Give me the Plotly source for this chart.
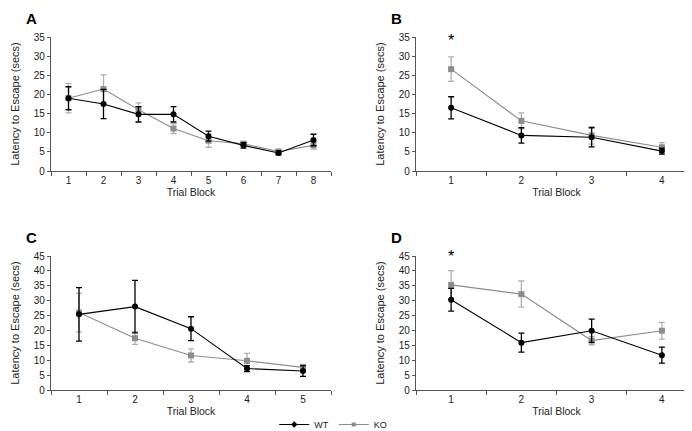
import plotly.graph_objects as go

# panel A - 8 trial blocks
a_blocks = ["1", "2", "3", "4", "5", "6", "7", "8"]
a_wt = [19.0, 17.5, 14.8, 14.8, 9.1, 6.7, 4.7, 8.1]
a_wt_err = [3.0, 3.8, 2.0, 2.0, 1.3, 0.7, 0.5, 1.5]
a_ko = [19.0, 21.4, 16.0, 11.1, 7.9, 7.1, 5.1, 6.7]
a_ko_err = [3.8, 3.7, 1.8, 1.3, 1.7, 0.6, 0.5, 1.0]

# panel B - 4 trial blocks
b_blocks = ["1", "2", "3", "4"]
b_wt = [16.5, 9.3, 8.8, 5.2]
b_wt_err = [2.9, 2.0, 2.5, 0.8]
b_ko = [26.6, 13.1, 9.3, 6.2]
b_ko_err = [3.2, 2.1, 2.3, 1.2]

# panel C - 5 trial blocks
c_blocks = ["1", "2", "3", "4", "5"]
c_wt = [25.4, 28.0, 20.6, 7.2, 6.4]
c_wt_err = [9.0, 8.8, 4.0, 1.0, 1.8]
c_ko = [26.0, 17.4, 11.6, 9.8, 7.6]
c_ko_err = [6.5, 2.1, 2.2, 2.5, 1.0]

# panel D - 4 trial blocks
d_blocks = ["1", "2", "3", "4"]
d_wt = [30.3, 15.9, 19.9, 11.7]
d_wt_err = [3.8, 3.2, 3.9, 2.7]
d_ko = [35.3, 32.2, 16.6, 19.9]
d_ko_err = [4.8, 4.4, 1.4, 2.8]

panels = [
    ("A", a_blocks, a_wt, a_wt_err, a_ko, a_ko_err, 35),
    ("B", b_blocks, b_wt, b_wt_err, b_ko, b_ko_err, 35),
    ("C", c_blocks, c_wt, c_wt_err, c_ko, c_ko_err, 45),
    ("D", d_blocks, d_wt, d_wt_err, d_ko, d_ko_err, 45),
]

W, H = 692, 431
# plot areas in pixels (left, right, top, bottom)
boxes = [(43, 323, 29, 163), (408, 689, 29, 163), (43, 323, 248, 382), (408, 689, 248, 382)]

font = "Liberation Sans, Arial, sans-serif"
wt_col = "black"
ko_col = "#8c8c8c"
ko_err_col = "#b0b0b0"
axis_col = "#555555"

fig = go.Figure()
annots = []
for i, (lab, blocks, wt, wt_err, ko, ko_err, ymax) in enumerate(panels):
    n = i + 1
    xa = "x" if n == 1 else "x%d" % n
    ya = "y" if n == 1 else "y%d" % n
    fig.add_trace(go.Scatter(
        x=blocks, y=ko, xaxis=xa, yaxis=ya, name="KO", mode="lines+markers",
        line=dict(color=ko_col, width=1.1), marker=dict(symbol="square", size=6, color=ko_col),
        error_y=dict(type="data", array=ko_err, color=ko_err_col, thickness=1.3, width=3),
        showlegend=False))
    fig.add_trace(go.Scatter(
        x=blocks, y=wt, xaxis=xa, yaxis=ya, name="WT", mode="lines+markers",
        line=dict(color=wt_col, width=1.1), marker=dict(symbol="circle", size=6, color=wt_col),
        error_y=dict(type="data", array=wt_err, color=wt_col, thickness=1.3, width=3),
        showlegend=False))
    l, r, t, b = boxes[i]
    fig.layout["xaxis" if n == 1 else "xaxis%d" % n] = dict(
        domain=[l / W, r / W], anchor=ya, type="category", automargin=True,
        range=[-0.5, len(blocks) - 0.5], tickson="boundaries", ticks="outside", ticklen=4,
        tickcolor=axis_col, showline=True, linecolor=axis_col, linewidth=1.2,
        showgrid=False, zeroline=False, tickfont=dict(size=10, color="#222"),
        title=dict(text="Trial Block", font=dict(size=10.5, color="#222"), standoff=3))
    fig.layout["yaxis" if n == 1 else "yaxis%d" % n] = dict(
        domain=[1 - b / H, 1 - t / H], anchor=xa, range=[0, ymax], dtick=5, automargin=True,
        ticks="outside", ticklen=3, tickcolor=axis_col, showline=True, linecolor=axis_col,
        linewidth=1.2, showgrid=False, zeroline=False, tickfont=dict(size=10, color="#222"),
        title=dict(text="Latency to Escape (secs)", font=dict(size=11, color="#222"), standoff=11))
    annots.append(dict(text="<b>%s</b>" % lab, x=(l - 27) / W, y=1 - (t - 19) / H,
                       xref="paper", yref="paper", showarrow=False,
                       font=dict(size=15, color="black"), xanchor="left", yanchor="middle"))

# legend entries (small markers, WT first)
fig.add_trace(go.Scatter(x=[None], y=[None], name="WT", mode="lines+markers",
                         line=dict(color=wt_col, width=1.1),
                         marker=dict(symbol="diamond", size=5, color=wt_col)))
fig.add_trace(go.Scatter(x=[None], y=[None], name="KO", mode="lines+markers",
                         line=dict(color=ko_col, width=1.1),
                         marker=dict(symbol="square", size=4, color=ko_col)))

# significance stars on block 1 for B and D
annots.append(dict(text="*", x=0, y=34.0, xref="x2", yref="y2", showarrow=False,
                   font=dict(size=16, color="black")))
annots.append(dict(text="*", x=0, y=44.9, xref="x4", yref="y4", showarrow=False,
                   font=dict(size=16, color="black")))

fig.update_layout(
    width=W, height=H, margin=dict(l=0, r=0, t=0, b=0, autoexpand=False),
    paper_bgcolor="white", plot_bgcolor="white",
    font=dict(family=font, size=10, color="#222"),
    annotations=annots,
    legend=dict(orientation="h", x=0.47, y=0.0, xanchor="center", yanchor="bottom",
                font=dict(size=9), itemwidth=30, tracegroupgap=0, bgcolor="rgba(0,0,0,0)"),
)

fig.write_html("out.html")
